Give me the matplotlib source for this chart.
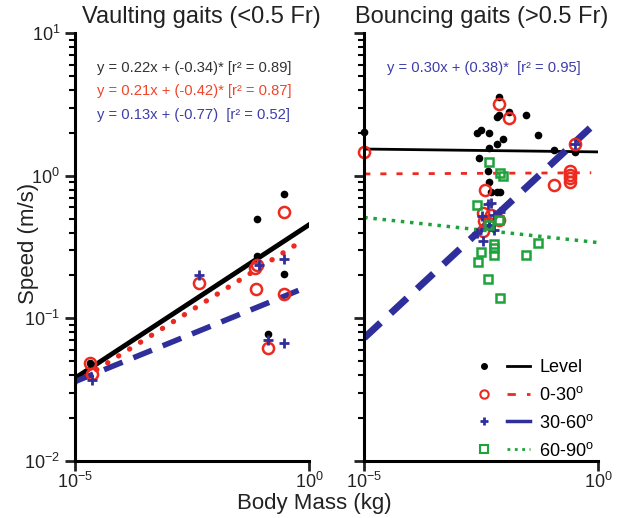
import matplotlib.pyplot as plt
from matplotlib.lines import Line2D
from matplotlib.legend_handler import HandlerTuple
from matplotlib.ticker import LogLocator, NullLocator, NullFormatter, FixedLocator

plt.rcParams['font.family'] = ['Liberation Sans', 'DejaVu Sans']
plt.rcParams['mathtext.fontset'] = 'custom'
plt.rcParams['mathtext.rm'] = 'Liberation Sans'

RED = '#ec2a1f'
BLUE = '#2f2f9c'
GREEN = '#1ea33c'

# ---- vaulting gaits (left) : body mass (kg), speed (m/s)
vault_level_m = [2.16e-5, 0.078, 0.078, 0.30, 0.30, 0.136]
vault_level_v = [0.049, 0.50, 0.275, 0.74, 0.205, 0.078]
vault_0_30_m = [2.16e-5, 2.3e-5, 0.0046, 0.072, 0.076, 0.073, 0.30, 0.30, 0.136]
vault_0_30_v = [0.049, 0.041, 0.177, 0.225, 0.235, 0.16, 0.557, 0.148, 0.062]
vault_30_60_m = [2.3e-5, 0.0046, 0.085, 0.30, 0.136, 0.30]
vault_30_60_v = [0.037, 0.20, 0.237, 0.26, 0.070, 0.067]

# fit lines (end points)
vault_fit_level_m = [1e-5, 1.0]
vault_fit_level_v = [0.038, 0.453]
vault_fit_0_30_m = [1e-5, 0.74]
vault_fit_0_30_v = [0.035, 0.352]
vault_fit_30_60_m = [1e-5, 0.9]
vault_fit_30_60_v = [0.036, 0.166]

# ---- bouncing gaits (right)
bounce_level_m = [1e-5, 0.0077, 0.0068, 0.0077, 0.0122, 0.028, 0.0025, 0.0031, 0.0047,
                  0.050, 0.0091, 0.0068, 0.0047, 0.0028, 0.0044, 0.0047, 0.0052,
                  0.0068, 0.0079, 0.11, 0.32]
bounce_level_v = [2.02, 3.54, 2.58, 2.65, 2.78, 2.67, 2.01, 2.10, 2.01,
                  1.92, 1.81, 1.67, 1.56, 1.33, 1.08, 0.90, 0.77,
                  0.77, 0.77, 1.52, 1.46]
bounce_0_30_m = [1e-5, 0.0077, 0.0122, 0.0038, 0.0035, 0.0052, 0.0076, 0.0036, 0.0047,
                 0.0035, 0.245, 0.245, 0.245, 0.245, 0.115, 0.32]
bounce_0_30_v = [1.46, 3.18, 2.54, 0.80, 0.55, 0.53, 0.49, 0.48, 0.47,
                 0.41, 1.08, 1.02, 0.96, 0.90, 0.86, 1.68]
bounce_30_60_m = [0.0044, 0.0052, 0.0033, 0.0059, 0.0079, 0.0059, 0.0025, 0.0035, 0.32, 0.0047]
bounce_30_60_v = [0.63, 0.64, 0.52, 0.53, 0.56, 0.42, 0.40, 0.35, 1.68, 0.45]
bounce_60_90_m = [0.0047, 0.0079, 0.0091, 0.0025, 0.0047, 0.0076, 0.0059, 0.0059, 0.050,
                  0.0031, 0.0059, 0.0027, 0.028, 0.0044, 0.0079]
bounce_60_90_v = [1.24, 1.04, 0.99, 0.62, 0.45, 0.49, 0.33, 0.31, 0.34,
                  0.29, 0.28, 0.25, 0.28, 0.19, 0.14]

bounce_fit_level_m = [1e-5, 1.0]
bounce_fit_level_v = [1.54, 1.47]
bounce_fit_0_30_m = [1e-5, 0.7]
bounce_fit_0_30_v = [1.03, 1.05]
bounce_fit_30_60_m = [1e-5, 0.66]
bounce_fit_30_60_v = [0.073, 2.16]
bounce_fit_60_90_m = [1e-5, 1.0]
bounce_fit_60_90_v = [0.51, 0.34]

fig = plt.figure(figsize=(6.28, 5.18), dpi=100)
ax1 = fig.add_axes([0.119, 0.110, 0.373, 0.826])
ax2 = fig.add_axes([0.580, 0.110, 0.373, 0.826])


def style_axes(ax, show_labels):
    ax.set_xscale('log')
    ax.set_yscale('log')
    ax.set_xlim(1e-5, 1)
    ax.set_ylim(1e-2, 10)
    for s in ['top', 'right']:
        ax.spines[s].set_visible(False)
    for s in ['left', 'bottom']:
        ax.spines[s].set_linewidth(2.2)
    ax.xaxis.set_major_locator(FixedLocator([1e-5, 1]))
    ax.xaxis.set_minor_locator(NullLocator())
    ax.yaxis.set_major_locator(LogLocator(base=10))
    ax.yaxis.set_minor_locator(LogLocator(base=10, subs=range(2, 10)))
    ax.yaxis.set_minor_formatter(NullFormatter())
    ax.tick_params(axis='both', which='major', direction='out', length=7, width=2,
                   labelsize=13, colors='#222222')
    ax.tick_params(axis='x', which='major', pad=1)
    ax.tick_params(axis='y', which='minor', direction='out', length=4, width=1.5)
    ax.tick_params(axis='y', labelleft=show_labels)


style_axes(ax1, True)
style_axes(ax2, False)

# left panel
ax1.plot(vault_fit_level_m, vault_fit_level_v, '-', color='black', lw=3.5)
ax1.plot(vault_fit_0_30_m, vault_fit_0_30_v, '-', color=RED, lw=3.8,
         dashes=(0.05, 2.4), dash_capstyle='round')
ax1.plot(vault_fit_30_60_m, vault_fit_30_60_v, '--', color=BLUE, lw=4, dashes=(3.6, 2.1))
ax1.plot(vault_level_m, vault_level_v, 'o', color='black', ms=4.5)
ax1.plot(vault_0_30_m, vault_0_30_v, 'o', mfc='none', mec=RED, mew=1.8, ms=8)
ax1.plot(vault_30_60_m, vault_30_60_v, '+', color=BLUE, mew=2, ms=7)

ax1.set_title('Vaulting gaits (<0.5 Fr)', fontsize=17, pad=7, x=0.54, color='#222222')
ax1.text(0.094, 0.918, 'y = 0.22x + (-0.34)* [r² = 0.89]', transform=ax1.transAxes,
         fontsize=10.6, color='#333333', va='center')
ax1.text(0.094, 0.865, 'y = 0.21x + (-0.42)* [r² = 0.87]', transform=ax1.transAxes,
         fontsize=10.6, color='#f0442b', va='center')
ax1.text(0.094, 0.808, 'y = 0.13x + (-0.77)  [r² = 0.52]', transform=ax1.transAxes,
         fontsize=10.6, color='#3d3daa', va='center')

# right panel
ax2.plot(bounce_fit_level_m, bounce_fit_level_v, '-', color='black', lw=2)
ax2.plot(bounce_fit_0_30_m, bounce_fit_0_30_v, '--', color=RED, lw=2, dashes=(2.2, 3.6))
ax2.plot(bounce_fit_30_60_m, bounce_fit_30_60_v, '--', color=BLUE, lw=5, dashes=(3.2, 2))
ax2.plot(bounce_fit_60_90_m, bounce_fit_60_90_v, ':', color=GREEN, lw=2.5)
ax2.plot(bounce_level_m, bounce_level_v, 'o', color='black', ms=4.5, clip_on=False)
ax2.plot(bounce_0_30_m, bounce_0_30_v, 'o', mfc='none', mec=RED, mew=1.8, ms=8, clip_on=False)
ax2.plot(bounce_30_60_m, bounce_30_60_v, '+', color=BLUE, mew=2, ms=7)
ax2.plot(bounce_60_90_m, bounce_60_90_v, 's', mfc='none', mec=GREEN, mew=1.8, ms=6)

ax2.set_title('Bouncing gaits (>0.5 Fr)', fontsize=17, pad=7, color='#222222')
ax2.text(0.098, 0.918, 'y = 0.30x + (0.38)*  [r² = 0.95]', transform=ax2.transAxes,
         fontsize=10.6, color='#3d3daa', va='center')

handles = [
    (Line2D([], [], marker='o', ls='none', color='black', ms=4),
     Line2D([], [], ls='-', color='black', lw=2)),
    (Line2D([], [], marker='o', ls='none', mfc='none', mec=RED, mew=1.5, ms=6),
     Line2D([], [], ls='--', color=RED, lw=2, dashes=(3, 4))),
    (Line2D([], [], marker='+', ls='none', color=BLUE, mew=2, ms=6),
     Line2D([], [], ls='-', color=BLUE, lw=2.5)),
    (Line2D([], [], marker='s', ls='none', mfc='none', mec=GREEN, mew=1.5, ms=5.5),
     Line2D([], [], ls=':', color=GREEN, lw=2)),
]
labels = ['Level', '0-30$^{\\mathrm{o}}$', '30-60$^{\\mathrm{o}}$', '60-90$^{\\mathrm{o}}$']
ax2.legend(handles, labels, handler_map={tuple: HandlerTuple(ndivide=None, pad=0.6)},
           loc='lower right', bbox_to_anchor=(1.05, -0.035), frameon=False, fontsize=13,
           handlelength=3.2, labelspacing=0.55, handletextpad=0.5)

fig.text(0.045, 0.53, 'Speed (m/s)', rotation=90, ha='center', va='center',
         fontsize=16, color='#222222')
fig.text(0.5, 0.008, 'Body Mass (kg)', ha='center', va='bottom', fontsize=16, color='#222222')

fig.savefig('out.png', dpi=100)
